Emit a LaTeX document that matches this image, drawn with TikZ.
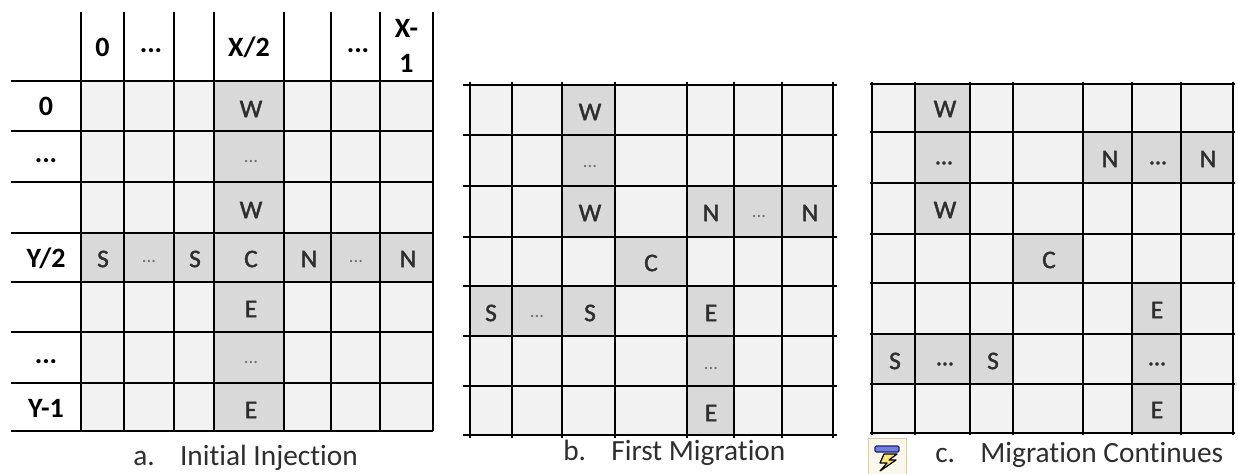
\documentclass[tikz,border=0pt]{standalone}
\usepackage{fontspec}
\setmainfont{Carlito}[Ligatures={NoCommon}]
\newfontfamily\cellfont{Carlito}[FakeBold=1.6]
\definecolor{cellbg}{HTML}{F2F2F2}
\definecolor{cellsh}{HTML}{D9D9D9}
\definecolor{celltxt}{HTML}{2E2E2E}
\definecolor{dotgray}{HTML}{6E6E6E}
\begin{document}
\begin{tikzpicture}[x=0.75pt,y=-0.75pt,
  grid/.style={line width=1.4pt,black},
  head/.style={font=\fontsize{21}{26}\selectfont\bfseries,text=black,inner sep=0pt,align=center},
  cell/.style={font=\cellfont\fontsize{19}{19}\selectfont,text=celltxt,inner sep=0pt},
  dots/.style={font=\fontsize{14}{14}\selectfont,text=dotgray,inner sep=0pt},
  bigdots/.style={font=\cellfont\fontsize{18}{18}\selectfont,text=celltxt,inner sep=0pt},
  caption/.style={font=\fontsize{22}{24}\selectfont,text=celltxt,inner sep=0pt,anchor=west}]
\useasboundingbox (0,0) rectangle (1238,474);
\fill[white] (0,0) rectangle (1238,474);

% ---------------- table a ----------------
\fill[cellbg] (81,81) rectangle (433,431);
\fill[cellsh] (214,81) rectangle (284,431);
\fill[cellsh] (81,233) rectangle (433,282);
\foreach \y in {81,131,182,233,282,332,383,431} \draw[grid] (11,\y) -- (433,\y);
\foreach \x in {81,124,174,214,284,331,380,433} \draw[grid] (\x,12) -- (\x,431);
% header
\node[head] (ah1) at (102.5,47) {0};
\node[head] (ah2) at (151,51) {...};
\node[head] (ah4) at (249,47) {X/2};
\node[head] (ah6) at (358,51) {...};
\node[head] (ah7) at (406.5,46) {X-\\1};
% row labels
\node[head] (ar1) at (46,106) {0};
\node[head] (ar2) at (46,161) {...};
\node[head] (ar4) at (46,258) {Y/2};
\node[head] (ar6) at (46,362) {...};
\node[head] (ar7) at (46,408) {Y-1};
% cells
\node[cell] (a14) at (251,109) {W};
\node[dots] (a24) at (251,162) {...};
\node[cell] (a34) at (251,210) {W};
\node[cell] (a41) at (103,259) {S};
\node[dots] (a42) at (149,262) {...};
\node[cell] (a43) at (195,259) {S};
\node[cell] (a44) at (251,259) {C};
\node[cell] (a45) at (309,259) {N};
\node[dots] (a46) at (356,262) {...};
\node[cell] (a47) at (408,259) {N};
\node[cell] (a54) at (251,309) {E};
\node[dots] (a64) at (251,363) {...};
\node[cell] (a74) at (251,410) {E};
\node[caption] (capa) at (133,458) {a.\hspace{19pt}Initial Injection};

% ---------------- table b ----------------
\fill[cellbg] (470,85) rectangle (833,435);
\fill[cellsh] (562,85) rectangle (615,237);
\fill[cellsh] (687,186) rectangle (833,237);
\fill[cellsh] (615,237) rectangle (687,286);
\fill[cellsh] (470,286) rectangle (615,336);
\fill[cellsh] (687,286) rectangle (734,435);
\foreach \y in {85,135,186,237,286,336,386,435} \draw[grid] (463,\y) -- (837,\y);
\foreach \x in {470,512,562,615,687,734,782,833} \draw[grid] (\x,82) -- (\x,438);
\node[cell] (b13) at (590,112) {W};
\node[dots] (b23) at (590,167) {...};
\node[cell] (b33) at (590,213) {W};
\node[cell] (b35) at (711,213) {N};
\node[dots] (b36) at (759,217) {...};
\node[cell] (b37) at (810,213) {N};
\node[cell] (b44) at (651,263) {C};
\node[cell] (b51) at (491,313) {S};
\node[dots] (b52) at (537,317) {...};
\node[cell] (b53) at (590,313) {S};
\node[cell] (b55) at (711,313) {E};
\node[dots] (b65) at (711,369) {...};
\node[cell] (b75) at (711,413) {E};
\node[caption] (capb) at (563,453) {b.\hspace{19pt}First Migration};

% ---------------- table c ----------------
\fill[cellbg] (872,84) rectangle (1233,433);
\fill[cellsh] (915,84) rectangle (970,234);
\fill[cellsh] (1083,132) rectangle (1233,183);
\fill[cellsh] (1013,234) rectangle (1083,283);
\fill[cellsh] (1132,283) rectangle (1181,433);
\fill[cellsh] (872,334) rectangle (1013,384);
\foreach \y in {84,132,183,234,283,334,384,433} \draw[grid] (870,\y) -- (1235,\y);
\foreach \x in {872,915,970,1013,1083,1132,1181,1233} \draw[grid] (\x,82) -- (\x,435);
\node[cell] (c12) at (945,109) {W};
\node[bigdots] (c22) at (944,163) {...};
\node[cell] (c32) at (945,210) {W};
\node[cell] (c25) at (1110,159) {N};
\node[bigdots] (c26) at (1158,163) {...};
\node[cell] (c27) at (1208,159) {N};
\node[cell] (c44) at (1049,260) {C};
\node[cell] (c56) at (1157,310) {E};
\node[cell] (c61) at (895,361) {S};
\node[bigdots] (c62) at (945,364) {...};
\node[cell] (c63) at (993,361) {S};
\node[bigdots] (c66) at (1157,364) {...};
\node[cell] (c76) at (1157,410) {E};
\node[caption] (capc) at (935,455) {c.\hspace{19pt}Migration Continues};

% small icon
\draw[fill={rgb,255:red,250;green,247;blue,236},draw={rgb,255:red,215;green,205;blue,175},line width=0.6pt] (868,438) rectangle (906,474);
\draw[fill={rgb,255:red,110;green,130;blue,215},draw={rgb,255:red,30;green,30;blue,120},line width=0.9pt,rounded corners=1pt] (875,446) rectangle (899,452);
\draw[fill={rgb,255:red,250;green,230;blue,120},draw=black,line width=0.9pt,line join=round]
  (884,454) -- (897,454) -- (889,460) -- (896,460) -- (880,471) -- (887,463) -- (880,463) -- cycle;
\end{tikzpicture}
\end{document}
